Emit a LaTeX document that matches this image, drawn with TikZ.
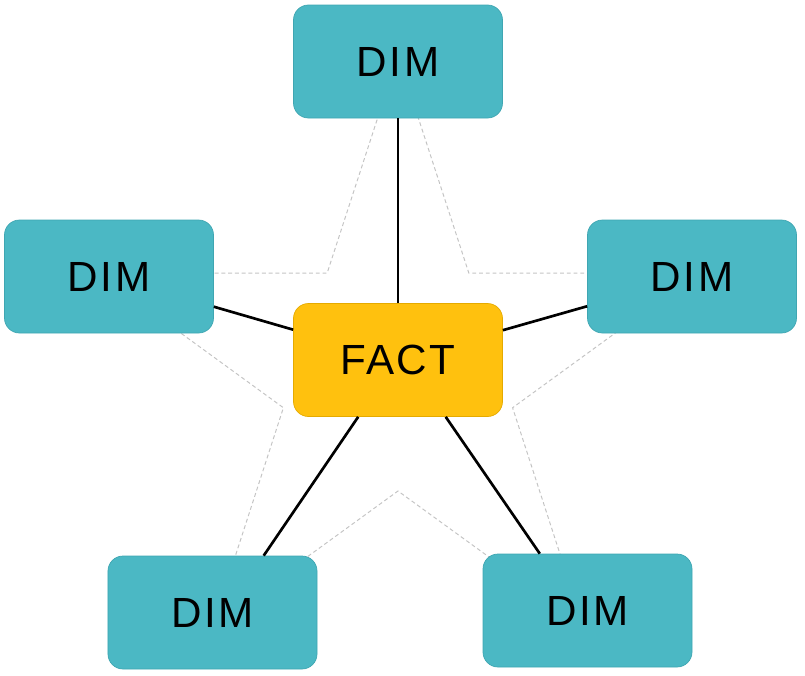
\documentclass[tikz,border=0pt]{standalone}
\usepackage{fontspec}
\setmainfont{Liberation Sans}[LetterSpace=6]
\usepackage{tikz}

\definecolor{dimteal}{HTML}{4BB8C4}
\definecolor{dimedge}{HTML}{3FA6B2}
\definecolor{factgold}{HTML}{FFC10E}
\definecolor{factedge}{HTML}{E5AA00}
\definecolor{stargray}{HTML}{C4C4C4}

\tikzset{
  table/.style={rounded corners=0.375cm,minimum width=5.225cm,minimum height=2.825cm,
    inner sep=0pt,font=\fontsize{30}{36}\selectfont,line width=0.5pt},
  dimtable/.style={table,fill=dimteal,draw=dimedge},
  facttable/.style={table,fill=factgold,draw=factedge},
  link/.style={line width=1.9pt,black},
  starline/.style={stargray,line width=0.7pt,dash pattern=on 2.8pt off 2pt}
}

\begin{document}
\begin{tikzpicture}
  \useasboundingbox (-9.95,-7.6125) rectangle (10.175,9.2625);
  % star behind the tables
  \draw[starline] (90:7.875)
    \foreach \a in {126,198,270,342,54} {
      -- (\a:3.0125) -- (\a+36:7.875)
    } -- cycle;

  \node[facttable] (fact) at (0,0.2625) {FACT};
  \node[dimtable] (dimtop) at (0,7.725) {DIM};
  \node[dimtable] (dimleft) at (-7.225,2.35) {DIM};
  \node[dimtable] (dimright) at (7.35,2.35) {DIM};
  \node[dimtable] (dimbl) at (-4.6375,-6.05) {DIM};
  \node[dimtable] (dimbr) at (4.7375,-6.0) {DIM};

  % links from the fact table
  \foreach \d in {dimtop,dimleft,dimright} {
      \draw[link] (fact) -- (\d);
  }
  \draw[link] (fact.235) -- (dimbl.48);
  \draw[link] (fact.310) -- (dimbr.130);
\end{tikzpicture}
\end{document}
